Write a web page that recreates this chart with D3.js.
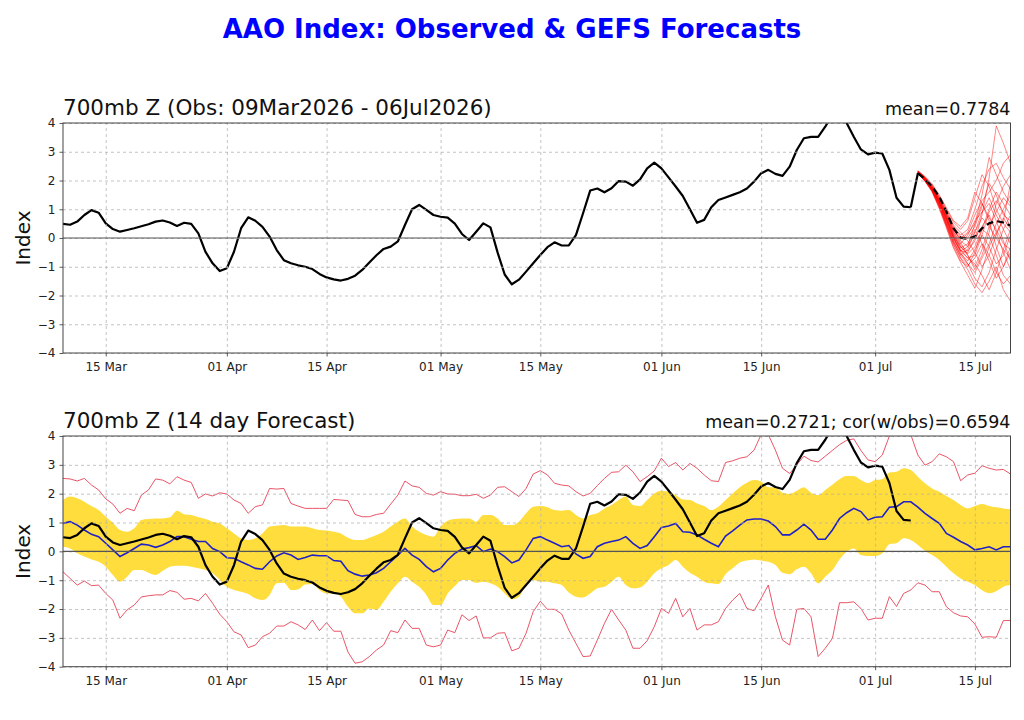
<!DOCTYPE html>
<meta charset="utf-8">
<style>
body { margin: 0; background: #fff; }
svg text { font-family: "DejaVu Sans", sans-serif; }
.grid line { stroke: #b4b4b4; stroke-width: 0.8px; stroke-dasharray: 3,3; }
.grid path { display: none; }
.axis path { display: none; }
.axis line { stroke: #333; stroke-width: 0.8px; }
.axis text { font-size: 12px; fill: #222; }
.frame { fill: none; stroke: #444; stroke-width: 1px; }
.zero { stroke: #555; stroke-width: 1.2px; }
</style>
<svg width="1024" height="720"></svg>
<script src="https://d3js.org/d3.v7.min.js"></script>
<script>
// daily values, first day 09 Mar 2026
var startDay = "2026-03-09";
var endDay = "2026-07-20";
var tickDays = ["2026-03-15","2026-04-01","2026-04-15","2026-05-01","2026-05-15","2026-06-01","2026-06-15","2026-07-01","2026-07-15"];
var yTicks = [-4,-3,-2,-1,0,1,2,3,4];

// observed AAO, 09 Mar .. 06 Jul
var obs = [
  0.49,0.46,0.57,0.80,0.97,0.88,0.51,0.31,0.22,0.28,
  0.34,0.41,0.48,0.57,0.61,0.54,0.42,0.53,0.49,0.16,
  -0.48,-0.88,-1.15,-1.05,-0.48,0.34,0.72,0.60,0.39,0.05,
  -0.42,-0.77,-0.88,-0.95,-1.00,-1.08,-1.25,-1.37,-1.44,-1.48,
  -1.42,-1.31,-1.11,-0.85,-0.60,-0.38,-0.30,-0.12,0.45,1.00,
  1.15,0.98,0.80,0.74,0.71,0.50,0.14,-0.07,0.22,0.51,
  0.37,-0.50,-1.27,-1.61,-1.45,-1.17,-0.88,-0.59,-0.32,-0.15,
  -0.26,-0.26,0.10,0.86,1.65,1.72,1.59,1.73,1.98,1.96,
  1.82,2.04,2.42,2.62,2.42,2.11,1.79,1.46,1.00,0.53,
  0.63,1.07,1.32,1.41,1.50,1.59,1.72,1.96,2.25,2.37,
  2.23,2.16,2.48,3.06,3.47,3.52,3.52,3.87,4.30,4.35,
  4.00,3.52,3.08,2.91,2.97,2.94,2.37,1.40,1.09,1.07
];

// GEFS ensemble mean, 07 Jul .. 20 Jul
var ensMean = [2.25,2.05,1.79,1.44,0.92,0.34,0.01,-0.03,0.05,0.34,0.51,0.59,0.54,0.43];

// GEFS members, 07 Jul .. 20 Jul
var mem01 = [2.30,2.05,1.72,1.25,0.70,0.15,-0.25,-0.45,-0.10,0.80,2.10,3.90,3.30,2.60];
var mem02 = [2.25,2.00,1.70,1.20,0.60,0.00,-0.50,-0.90,-1.40,-1.70,-1.20,-0.40,0.30,0.80];
var mem03 = [2.32,2.10,1.80,1.40,0.90,0.40,0.10,0.30,1.00,1.80,2.40,2.60,2.10,1.70];
var mem04 = [2.28,2.02,1.65,1.10,0.45,-0.20,-0.70,-1.10,-1.60,-1.90,-1.50,-1.00,-1.80,-2.20];
var mem05 = [2.30,2.08,1.78,1.35,0.85,0.30,-0.10,-0.30,0.20,0.70,0.40,0.00,-0.40,-0.70];
var mem06 = [2.27,2.00,1.68,1.18,0.55,-0.05,-0.45,-0.70,-0.60,0.10,0.90,1.30,0.90,0.40];
var mem07 = [2.33,2.12,1.85,1.45,1.00,0.55,0.30,0.60,1.40,2.20,1.80,1.00,0.50,0.20];
var mem08 = [2.29,2.04,1.73,1.28,0.72,0.10,-0.35,-0.20,0.30,-0.20,-0.80,-1.40,-1.00,-0.50];
var mem09 = [2.26,1.98,1.62,1.05,0.40,-0.30,-0.80,-1.00,-0.50,0.30,0.10,-0.60,-1.30,-1.60];
var mem10 = [2.31,2.06,1.76,1.32,0.80,0.25,0.00,0.20,0.80,1.30,1.60,2.00,2.60,2.90];
var mem11 = [2.30,2.03,1.70,1.22,0.65,0.05,-0.30,-0.60,-1.00,-0.40,0.40,0.90,1.40,1.10];
var mem12 = [2.28,2.01,1.66,1.15,0.50,-0.10,-0.55,-0.80,-0.40,0.10,-0.30,-0.90,-0.60,0.10];
var mem13 = [2.34,2.14,1.88,1.50,1.05,0.60,0.40,0.70,1.60,1.20,0.70,0.30,-0.20,-0.40];
var mem14 = [2.27,1.99,1.64,1.12,0.48,-0.15,-0.60,-0.90,-1.20,-0.70,-0.20,0.50,1.00,1.50];
var mem15 = [2.30,2.05,1.74,1.30,0.75,0.20,-0.20,0.10,0.60,0.90,1.20,0.60,-0.10,-0.80];
var mem16 = [2.29,2.03,1.71,1.26,0.68,0.05,-0.40,-0.70,-0.90,-1.30,-1.80,-1.20,-0.40,0.30];
var mem17 = [2.32,2.09,1.80,1.38,0.88,0.35,0.05,0.00,0.40,1.10,1.90,1.50,0.80,0.60];
var mem18 = [2.25,1.97,1.60,1.02,0.35,-0.35,-0.85,-1.30,-1.75,-1.10,-0.30,0.20,-0.50,-1.10];
var mem19 = [2.31,2.07,1.77,1.34,0.82,0.28,-0.05,0.15,0.50,1.50,2.80,2.20,1.60,1.20];
var mem20 = [2.28,2.02,1.69,1.20,0.62,0.00,-0.45,-0.50,0.00,0.40,0.80,0.20,0.60,1.90];
var mem21 = [2.29,2.03,1.70,1.24,0.66,0.02,-0.45,-0.30,0.50,1.20,0.60,-0.30,-1.00,-0.30];
var mem22 = [2.31,2.07,1.75,1.30,0.78,0.22,-0.15,-0.60,-1.10,-0.60,0.20,1.20,1.80,2.20];
var mem23 = [2.27,2.00,1.66,1.16,0.55,-0.12,-0.60,-0.40,0.20,0.90,1.40,0.80,0.30,-0.20];
var mem24 = [2.33,2.11,1.83,1.42,0.95,0.45,0.20,-0.10,-0.50,-1.00,-0.60,0.10,0.70,0.30];
var mem25 = [2.30,2.04,1.72,1.27,0.72,0.12,-0.30,-0.55,-0.30,0.30,1.00,1.60,1.20,0.80];
var mem26 = [2.26,1.99,1.63,1.10,0.45,-0.22,-0.70,-0.95,-0.70,-0.20,-0.60,-1.20,-1.60,-1.30];
var members = [mem01,mem02,mem03,mem04,mem05,mem06,mem07,mem08,mem09,mem10,mem11,mem12,mem13,
               mem14,mem15,mem16,mem17,mem18,mem19,mem20,mem21,mem22,mem23,mem24,mem25,mem26];

// 14 day forecast, 09 Mar .. 20 Jul
var fcMean = [
  0.97,1.03,0.91,0.74,0.59,0.51,0.28,0.05,-0.18,-0.05,
  0.10,0.25,0.22,0.14,0.22,0.34,0.51,0.51,0.42,0.34,
  0.34,0.10,-0.01,-0.22,-0.24,-0.36,-0.47,-0.59,-0.62,-0.36,
  -0.16,-0.05,-0.13,-0.28,-0.21,-0.13,-0.15,-0.15,-0.32,-0.34,
  -0.67,-0.79,-0.86,-0.82,-0.74,-0.59,-0.36,-0.13,0.10,-0.13,
  -0.28,-0.53,-0.71,-0.59,-0.30,-0.07,0.08,0.13,0.20,-0.01,
  0.08,-0.01,-0.18,-0.40,-0.30,0.05,0.45,0.51,0.39,0.28,
  0.16,0.20,-0.09,-0.24,-0.18,0.16,0.28,0.34,0.39,0.51,
  0.28,0.10,0.20,0.51,0.83,0.88,0.97,0.68,0.66,0.57,
  0.42,0.28,0.16,0.53,0.71,0.91,1.09,1.12,1.12,1.05,
  0.86,0.57,0.57,0.74,0.94,0.74,0.42,0.42,0.74,1.14,
  1.34,1.49,1.38,1.09,1.18,1.20,1.53,1.55,1.72,1.72,
  1.53,1.32,1.14,0.97,0.62,0.49,0.34,0.22,0.05,0.10,
  0.16,0.05,0.16,0.16
];
var bandHi = [
  1.78,1.90,1.84,1.72,1.57,1.43,1.20,0.99,0.74,0.68,
  0.80,1.09,1.12,1.14,1.14,1.18,1.41,1.29,1.26,1.18,
  1.12,1.03,0.97,0.80,0.62,0.45,0.39,0.45,0.62,0.86,
  0.89,0.91,0.86,0.86,0.86,0.80,0.74,0.72,0.68,0.62,
  0.47,0.39,0.39,0.47,0.57,0.68,0.86,1.03,1.14,0.86,
  0.68,0.57,0.51,0.86,1.06,1.12,1.14,1.14,1.03,1.26,
  1.26,1.14,0.91,0.91,1.03,1.32,1.55,1.57,1.53,1.43,
  1.41,1.43,1.26,1.14,1.26,1.32,1.49,1.61,1.78,1.90,
  1.61,1.57,1.78,2.01,2.10,2.07,1.95,1.80,1.78,1.66,
  1.57,1.43,1.55,1.78,2.01,2.22,2.38,2.47,2.42,2.22,
  2.22,2.03,1.99,2.10,2.22,2.03,1.95,2.13,2.31,2.50,
  2.61,2.61,2.47,2.36,2.47,2.50,2.73,2.76,2.88,2.82,
  2.59,2.36,2.18,2.07,1.92,1.78,1.61,1.49,1.57,1.64,
  1.57,1.53,1.49,1.46
];
var bandLo = [
  0.16,0.10,-0.07,-0.18,-0.28,-0.36,-0.53,-0.82,-1.05,-0.88,
  -0.65,-0.65,-0.74,-0.82,-0.67,-0.53,-0.50,-0.50,-0.53,-0.59,
  -0.65,-0.76,-0.99,-1.23,-1.34,-1.40,-1.48,-1.63,-1.69,-1.51,
  -1.11,-1.09,-1.34,-1.32,-1.15,-1.13,-1.34,-1.46,-1.46,-1.57,
  -1.92,-2.15,-2.15,-1.98,-2.03,-1.75,-1.40,-1.11,-0.88,-1.05,
  -1.23,-1.51,-1.86,-1.86,-1.46,-1.20,-0.99,-0.99,-1.09,-1.05,
  -1.11,-1.23,-1.46,-1.66,-1.57,-1.17,-0.99,-1.05,-1.05,-1.11,
  -1.17,-1.43,-1.57,-1.60,-1.46,-1.28,-1.23,-1.05,-0.88,-1.17,
  -1.28,-1.25,-1.05,-0.76,-0.59,-0.47,-0.30,-0.53,-0.74,-0.88,
  -1.05,-1.11,-1.13,-0.79,-0.59,-0.39,-0.32,-0.28,-0.32,-0.36,
  -0.47,-0.74,-0.79,-0.62,-0.53,-0.76,-1.11,-0.88,-0.65,-0.28,
  -0.01,0.10,-0.13,-0.16,-0.16,-0.07,0.25,0.28,0.45,0.39,
  0.22,0.02,-0.13,-0.30,-0.53,-0.76,-0.94,-1.05,-1.17,-1.35,
  -1.45,-1.38,-1.23,-1.17
];
var fcHi = [
  2.53,2.51,2.44,2.53,2.30,2.13,1.82,1.64,1.32,1.49,
  1.41,1.95,2.13,2.51,2.47,2.34,2.59,2.47,2.39,1.84,
  1.99,1.92,2.03,1.99,1.78,1.66,1.32,1.55,1.61,2.18,
  2.16,2.18,1.66,1.57,1.49,1.49,1.49,1.49,1.80,1.78,
  1.76,1.28,1.20,1.20,1.28,1.32,1.64,1.95,2.44,2.27,
  2.22,2.01,1.95,2.07,1.99,1.98,1.93,1.93,1.98,1.84,
  1.95,2.22,2.24,2.07,1.90,2.18,2.68,2.80,2.65,2.36,
  2.30,2.27,2.07,1.92,2.01,2.28,2.53,2.74,2.76,2.99,
  2.76,2.42,2.59,2.79,3.23,2.94,3.08,2.82,3.05,2.88,
  2.65,2.45,2.42,3.08,3.14,3.23,3.28,3.51,4.05,4.05,
  3.51,2.88,2.70,3.00,3.30,3.15,3.10,3.30,3.50,3.70,
  3.85,3.90,3.50,3.17,3.11,3.34,4.00,4.40,4.40,4.05,
  3.34,2.99,3.11,3.38,3.28,3.11,2.45,2.65,2.71,2.97,
  2.88,2.82,2.84,2.68
];
var fcLo = [
  -0.71,-0.94,-1.17,-1.03,-1.19,-1.17,-1.46,-1.69,-2.32,-2.03,
  -1.86,-1.58,-1.54,-1.51,-1.51,-1.36,-1.42,-1.66,-1.63,-1.72,
  -1.46,-1.80,-2.18,-2.44,-2.79,-2.90,-3.34,-3.25,-2.96,-2.84,
  -2.59,-2.59,-2.44,-2.55,-2.71,-2.38,-2.75,-2.47,-2.77,-2.77,
  -3.49,-3.88,-3.83,-3.65,-3.42,-3.25,-2.75,-2.82,-2.38,-2.67,
  -2.67,-3.25,-3.31,-3.25,-2.73,-2.82,-2.20,-2.40,-2.24,-3.00,
  -3.00,-2.84,-2.82,-3.45,-3.36,-2.84,-2.09,-1.73,-2.01,-2.01,
  -2.17,-2.73,-3.19,-3.65,-3.63,-3.08,-2.50,-2.01,-2.38,-2.73,
  -3.36,-3.36,-3.10,-2.61,-1.98,-2.15,-1.63,-2.27,-1.98,-2.73,
  -2.55,-2.55,-2.44,-1.98,-1.69,-1.46,-1.98,-2.06,-1.63,-1.17,
  -2.27,-3.08,-3.25,-2.01,-1.98,-2.27,-3.65,-3.36,-3.02,-1.78,
  -1.78,-1.75,-1.98,-2.38,-2.32,-2.32,-1.57,-1.91,-1.46,-1.34,
  -1.09,-1.17,-1.40,-1.40,-1.92,-2.13,-2.24,-2.27,-2.52,-2.98,
  -2.96,-2.98,-2.40,-2.40
];

var svg = d3.select("svg");
var margin = {left: 63, right: 13.5};
var width = +svg.attr("width") - margin.left - margin.right;
var panels = [{top: 123, height: 230}, {top: 436, height: 230.7}];

var parse = d3.utcParse("%Y-%m-%d");
var t0 = parse(startDay);
function dayOf(i) { return d3.utcDay.offset(t0, i); }

var x = d3.scaleUtc().domain([t0, parse(endDay)]).range([0, width]);
var tickDates = tickDays.map(parse);
function fmtY(d) { return d < 0 ? "\u2212" + Math.abs(d) : String(d); }

svg.append("text")
  .attr("x", 512).attr("y", 38)
  .attr("text-anchor", "middle")
  .style("font-size", "26px").style("font-weight", "bold").style("fill", "#0000ff")
  .text("AAO Index: Observed & GEFS Forecasts");

function panel(p, idx, leftTitle, rightTitle) {
  var h = p.height;
  var y = d3.scaleLinear().domain([-4, 4]).range([h, 0]);
  var g = svg.append("g").attr("transform", "translate(" + margin.left + "," + p.top + ")");

  g.append("clipPath").attr("id", "clip" + idx)
    .append("rect").attr("width", width).attr("height", h);

  var body = g.append("g");
  var lines = g.append("g").attr("clip-path", "url(#clip" + idx + ")");

  g.append("text").attr("x", 0).attr("y", -8)
    .style("font-size", "21.5px").style("fill", "#111").text(leftTitle);
  g.append("text").attr("x", width).attr("y", -8).attr("text-anchor", "end")
    .style("font-size", "17.5px").style("fill", "#111").text(rightTitle);
  g.append("text")
    .attr("transform", "translate(-33," + (h / 2) + ") rotate(-90)")
    .attr("text-anchor", "middle")
    .style("font-size", "20px").style("fill", "#111").text("Index");

  return {g: g, body: body, lines: lines, y: y, h: h};
}

function finish(P) {
  var g = P.g, y = P.y, h = P.h;
  g.append("g").attr("class", "grid")
    .call(d3.axisLeft(y).tickValues(yTicks).tickSize(-width).tickFormat(""));
  g.append("g").attr("class", "grid")
    .attr("transform", "translate(0," + h + ")")
    .call(d3.axisBottom(x).tickValues(tickDates).tickSize(-h).tickFormat(""));
  g.append("line").attr("class", "zero")
    .attr("x1", 0).attr("x2", width).attr("y1", y(0)).attr("y2", y(0));
  g.append("g").attr("class", "axis")
    .call(d3.axisLeft(y).tickValues(yTicks).tickSize(3.5).tickPadding(4).tickFormat(fmtY));
  g.append("g").attr("class", "axis")
    .attr("transform", "translate(0," + h + ")")
    .call(d3.axisBottom(x).tickValues(tickDates).tickSize(3.5).tickPadding(6)
      .tickFormat(d3.utcFormat("%d %b")));
  g.append("rect").attr("class", "frame").attr("width", width).attr("height", h);
}

// ---- top panel: observations + GEFS members
var A = panel(panels[0], 0, "700mb Z (Obs: 09Mar2026 - 06Jul2026)", "mean=0.7784");
finish(A);
var lineA = d3.line().x(function(d) { return x(d.t); }).y(function(d) { return A.y(d.v); });
function series(arr, off) { return arr.map(function(v, i) { return {t: dayOf(off + i), v: v}; }); }

A.lines.selectAll(".mem").data(members).enter().append("path")
  .attr("class", "mem")
  .attr("d", function(m) { return lineA(series(m, 120)); })
  .attr("fill", "none").attr("stroke", "#ff0000").attr("stroke-width", 0.8).attr("stroke-opacity", 0.6);
A.lines.append("path").attr("d", lineA(series(obs, 0)))
  .attr("fill", "none").attr("stroke", "#000").attr("stroke-width", 2.2).attr("stroke-linejoin", "round");
// join last observation to first forecast day
A.lines.append("path")
  .attr("d", lineA([{t: dayOf(obs.length - 1), v: obs[obs.length - 1]}, {t: dayOf(120), v: ensMean[0]}]))
  .attr("fill", "none").attr("stroke", "#000").attr("stroke-width", 2.2);
A.lines.append("path").attr("d", lineA(series(ensMean, 120)))
  .attr("fill", "none").attr("stroke", "#000").attr("stroke-width", 2.2).attr("stroke-dasharray", "7,4");

// ---- bottom panel: 14 day forecast
var B = panel(panels[1], 1, "700mb Z (14 day Forecast)", "mean=0.2721; cor(w/obs)=0.6594");
var area = d3.area().curve(d3.curveMonotoneX)
  .x(function(d, i) { return x(dayOf(i)); })
  .y0(function(d, i) { return B.y(bandLo[i]); })
  .y1(function(d, i) { return B.y(bandHi[i]); });
B.body.append("path").datum(bandHi).attr("d", area).attr("fill", "#fedd3c");
finish(B);
var lineB = d3.line().x(function(d) { return x(d.t); }).y(function(d) { return B.y(d.v); });
[fcHi, fcLo].forEach(function(arr) {
  B.lines.append("path").attr("d", lineB(series(arr, 0)))
    .attr("fill", "none").attr("stroke", "#e5374c").attr("stroke-width", 1).attr("stroke-opacity", 0.85);
});
B.lines.append("path").attr("d", lineB(series(fcMean, 0)))
  .attr("fill", "none").attr("stroke", "#2020c8").attr("stroke-width", 1.6);
B.lines.append("path").attr("d", lineB(series(obs, 0)))
  .attr("fill", "none").attr("stroke", "#000").attr("stroke-width", 2.2).attr("stroke-linejoin", "round");
</script>
